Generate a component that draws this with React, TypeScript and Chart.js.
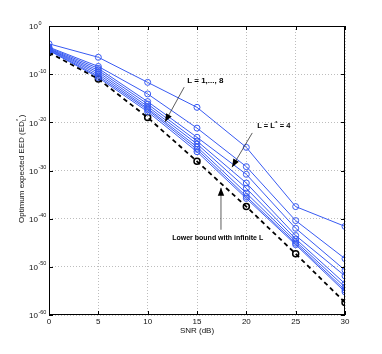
import React, { useEffect, useRef } from "react";
import { Chart, registerables } from "chart.js";

Chart.register(...registerables);

// SNR (dB)
const snr = [0, 5, 10, 15, 20, 25, 30];

// Optimum expected EED for L = 1..8
const L1 = [2.0e-4, 3.2e-7, 2.0e-12, 1.3e-17, 6.3e-26, 3.2e-38, 2.5e-42];
const L2 = [4.0e-5, 4.0e-9, 7.9e-15, 6.3e-22, 6.3e-30, 4.0e-41, 5.0e-49];
const L3 = [2.8e-5, 1.6e-9, 2.0e-16, 7.9e-24, 1.6e-31, 1.0e-42, 2.0e-51];
const L4 = [2.0e-5, 6.3e-10, 6.3e-17, 1.3e-24, 2.5e-33, 3.2e-44, 1.3e-52];
const L5 = [1.6e-5, 2.5e-10, 2.0e-17, 3.2e-25, 2.0e-34, 6.3e-45, 3.2e-54];
const L6 = [1.3e-5, 1.0e-10, 7.9e-18, 7.9e-26, 2.0e-35, 2.0e-45, 6.3e-55];
const L7 = [1.0e-5, 4.0e-11, 4.0e-18, 2.5e-26, 4.0e-36, 7.9e-46, 1.6e-55];
const L8 = [7.9e-6, 2.0e-11, 1.6e-18, 7.9e-27, 1.6e-36, 4.0e-46, 6.3e-56];
const lowerBound = [3.2e-6, 1.0e-11, 1.0e-19, 7.9e-29, 3.2e-38, 5.0e-48, 4.0e-58];

const seriesL = [L1, L2, L3, L4, L5, L6, L7, L8];

// Axis ticks
const xTicks = [0, 5, 10, 15, 20, 25, 30];
const yTickValues = [1, 1e-10, 1e-20, 1e-30, 1e-40, 1e-50, 1e-60];
const yTickExp = ["0", "-10", "-20", "-30", "-40", "-50", "-60"];

const BLUE = "rgb(56,90,242)";
const FONT = "'Liberation Sans', Arial, Helvetica, sans-serif";

function drawArrow(ctx: CanvasRenderingContext2D, x1: number, y1: number, x2: number, y2: number) {
  ctx.save();
  ctx.strokeStyle = "#333";
  ctx.fillStyle = "#000";
  ctx.lineWidth = 0.8;
  ctx.beginPath();
  ctx.moveTo(x1, y1);
  ctx.lineTo(x2, y2);
  ctx.stroke();
  const a = Math.atan2(y2 - y1, x2 - x1);
  const len = 8, w = 3.2;
  ctx.beginPath();
  ctx.moveTo(x2, y2);
  ctx.lineTo(x2 - len * Math.cos(a) + w * Math.sin(a), y2 - len * Math.sin(a) - w * Math.cos(a));
  ctx.lineTo(x2 - len * Math.cos(a) - w * Math.sin(a), y2 - len * Math.sin(a) + w * Math.cos(a));
  ctx.closePath();
  ctx.fill();
  ctx.restore();
}

const decorPlugin = {
  id: "decor",
  afterDraw(chart: any) {
    const ctx: CanvasRenderingContext2D = chart.ctx;
    const { left, right, top, bottom } = chart.chartArea;
    const xs = chart.scales.x;
    const ys = chart.scales.y;
    ctx.save();
    // box
    ctx.strokeStyle = "#000";
    ctx.lineWidth = 1;
    ctx.strokeRect(left + 0.5, top + 0.5, right - left - 1, bottom - top - 1);
    // inner ticks
    ctx.beginPath();
    xTicks.forEach((v) => {
      const px = Math.round(xs.getPixelForValue(v)) + 0.5;
      ctx.moveTo(px, bottom);
      ctx.lineTo(px, bottom - 4);
      ctx.moveTo(px, top);
      ctx.lineTo(px, top + 4);
    });
    yTickValues.forEach((v) => {
      const py = Math.round(ys.getPixelForValue(v)) + 0.5;
      ctx.moveTo(left, py);
      ctx.lineTo(left + 4, py);
      ctx.moveTo(right, py);
      ctx.lineTo(right - 4, py);
    });
    ctx.stroke();

    // x tick labels
    ctx.fillStyle = "#111";
    ctx.font = `8px ${FONT}`;
    ctx.textAlign = "center";
    ctx.textBaseline = "middle";
    xTicks.forEach((v) => {
      ctx.fillText(String(v), xs.getPixelForValue(v), bottom + 7);
    });
    // y tick labels 10^e
    yTickValues.forEach((v, i) => {
      const py = ys.getPixelForValue(v);
      ctx.font = `8px ${FONT}`;
      ctx.textAlign = "left";
      ctx.textBaseline = "middle";
      const bx = left - 20;
      ctx.fillText("10", bx, py + 1);
      const w = ctx.measureText("10").width;
      ctx.font = `5.5px ${FONT}`;
      ctx.fillText(yTickExp[i], bx + w + 0.5, py - 3);
    });

    // x title
    ctx.font = `8px ${FONT}`;
    ctx.textAlign = "center";
    ctx.textBaseline = "middle";
    ctx.fillText("SNR (dB)", (left + right) / 2, bottom + 16);

    // y title (rotated)
    ctx.save();
    ctx.translate(22, 169);
    ctx.rotate(-Math.PI / 2);
    ctx.font = `8px ${FONT}`;
    const t1 = "Optimum expected EED (ED";
    const wMain = ctx.measureText(t1).width;
    ctx.font = `5.5px ${FONT}`;
    const wSub = ctx.measureText("L").width;
    ctx.font = `8px ${FONT}`;
    const wEnd = ctx.measureText(")").width;
    const total = wMain + wSub + 0.5 + wEnd;
    const x0 = -total / 2;
    ctx.textAlign = "left";
    ctx.fillText(t1, x0, 0);
    ctx.font = `5.5px ${FONT}`;
    ctx.fillText("L", x0 + wMain + 0.3, 2.5);
    ctx.fillText("*", x0 + wMain + 0.3, -3.5);
    ctx.font = `8px ${FONT}`;
    ctx.fillText(")", x0 + wMain + wSub + 0.8, 0);
    ctx.restore();

    // annotations (positioned in data coordinates)
    const X = (v: number) => xs.getPixelForValue(v);
    const Y = (e: number) => ys.getPixelForValue(Math.pow(10, e));
    ctx.fillStyle = "#000";
    ctx.font = `bold 8px ${FONT}`;
    ctx.textAlign = "left";
    ctx.textBaseline = "middle";
    ctx.fillText("L = 1,..., 8", X(14.0), Y(-11.4));
    drawArrow(ctx, X(13.7), Y(-12.7), X(11.76), Y(-19.9));

    // L = L* = 4
    ctx.font = `bold 7.5px ${FONT}`;
    let lx = X(21.1);
    const ly = Y(-20.8);
    ctx.fillText("L = L", lx, ly);
    lx += ctx.measureText("L = L").width;
    ctx.font = `bold 5px ${FONT}`;
    ctx.fillText("*", lx + 0.3, ly - 3);
    lx += ctx.measureText("*").width + 0.8;
    ctx.font = `bold 7.5px ${FONT}`;
    ctx.fillText(" = 4", lx, ly);
    drawArrow(ctx, X(20.6), Y(-22.2), X(18.55), Y(-29.3));

    ctx.font = `bold 7px ${FONT}`;
    ctx.textAlign = "center";
    ctx.fillText("Lower bound with infinite L", X(17.1), Y(-44.0));
    drawArrow(ctx, X(17.43), Y(-42.3), X(17.43), Y(-33.6));
    ctx.restore();
  },
};

export default function App() {
  const ref = useRef<HTMLCanvasElement | null>(null);
  useEffect(() => {
    if (!ref.current) return;
    const datasets: any[] = seriesL.map((s, i) => ({
      label: `L = ${i + 1}`,
      data: s,
      borderColor: BLUE,
      backgroundColor: BLUE,
      borderWidth: 1,
      pointRadius: 3,
      pointBorderWidth: 1,
      pointBorderColor: BLUE,
      pointBackgroundColor: "rgba(0,0,0,0)",
      tension: 0,
    }));
    datasets.push({
      label: "Lower bound",
      data: lowerBound,
      borderColor: "#000",
      borderWidth: 1.8,
      borderDash: [4.5, 3.5],
      pointRadius: 3,
      pointBorderWidth: 1.5,
      pointBorderColor: "#000",
      pointBackgroundColor: "rgba(0,0,0,0)",
      tension: 0,
    });
    const chart = new Chart(ref.current, {
      type: "line",
      data: { labels: snr, datasets },
      options: {
        animation: false,
        responsive: false,
        maintainAspectRatio: false,
        layout: { padding: { left: 49, right: 37, top: 26, bottom: 39 } },
        plugins: { legend: { display: false }, tooltip: { enabled: false } },
        scales: {
          x: {
            type: "linear",
            min: 0,
            max: 30,
            afterBuildTicks: (s: any) => {
              s.ticks = xTicks.map((v) => ({ value: v }));
            },
            afterFit: (s: any) => {
              s.height = 0;
            },
            ticks: { display: false },
            grid: { color: "#bdbdbd", lineWidth: 1, drawTicks: false },
            border: { display: false, dash: [1, 2] },
          },
          y: {
            type: "logarithmic",
            min: 1e-60,
            max: 1,
            afterBuildTicks: (s: any) => {
              s.ticks = yTickValues.map((v) => ({ value: v }));
            },
            afterFit: (s: any) => {
              s.width = 0;
            },
            ticks: { display: false },
            grid: { color: "#bdbdbd", lineWidth: 1, drawTicks: false },
            border: { display: false, dash: [1, 2] },
          },
        },
      },
      plugins: [decorPlugin],
    });
    return () => chart.destroy();
  }, []);
  return (
    <div style={{ position: "fixed", left: 0, top: 0, width: 382, height: 354, background: "#fff" }}>
      <canvas ref={ref} width={382} height={354} style={{ width: 382, height: 354 }} />
    </div>
  );
}
